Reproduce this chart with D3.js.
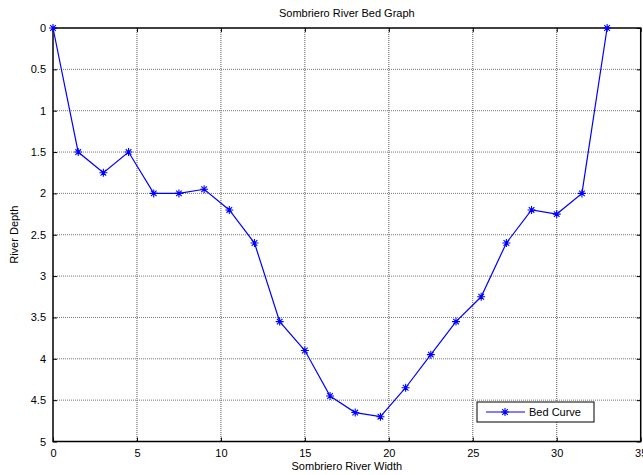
<!DOCTYPE html>
<html>
<head>
<meta charset="utf-8">
<script src="https://cdn.jsdelivr.net/npm/d3@7"></script>
<style>
  body { margin: 0; background: #fff; }
  svg text { font-family: "Liberation Sans", Arial, sans-serif; fill: #000; }
</style>
</head>
<body>
<div id="chart"><svg></svg></div>
<script>
// river bed survey: width (m) vs depth
var widths = [0, 1.5, 3, 4.5, 6, 7.5, 9, 10.5, 12, 13.5, 15, 16.5, 18, 19.5, 21, 22.5, 24, 25.5, 27, 28.5, 30, 31.5, 33];
var depths = [0, 1.5, 1.75, 1.5, 2, 2, 1.95, 2.2, 2.6, 3.55, 3.9, 4.45, 4.65, 4.7, 4.35, 3.95, 3.55, 3.25, 2.6, 2.2, 2.25, 2, 0];
var xTicks = [0, 5, 10, 15, 20, 25, 30, 35];
var yTicks = [0, 0.5, 1, 1.5, 2, 2.5, 3, 3.5, 4, 4.5, 5];

var data = widths.map(function(w, i) {
  return { w: w, d: depths[i] };
});

var margin = { top: 28, right: 2, bottom: 33, left: 53 };
var W = 643, H = 475;
var width = W - margin.left - margin.right;
var height = H - margin.top - margin.bottom;

var svg = d3.select("#chart > svg").attr("width", W).attr("height", H);

var g = svg.append("g")
  .attr("transform", `translate(${margin.left}, ${margin.top})`);

var x = d3.scaleLinear().domain([0, 35]).range([0, width - 0.3]);
var y = d3.scaleLinear().domain([0, 5]).range([0, height - 0.5]);

// grid
g.selectAll(".vgrid")
  .data(xTicks.slice(1, -1))
  .enter().append("line")
  .attr("x1", d => x(d)).attr("x2", d => x(d))
  .attr("y1", 0).attr("y2", y(5))
  .attr("stroke", "#555")
  .attr("stroke-width", 1)
  .attr("stroke-dasharray", "1,1");

g.selectAll(".hgrid")
  .data(yTicks.slice(1, -1))
  .enter().append("line")
  .attr("x1", 0).attr("x2", x(35))
  .attr("y1", d => y(d)).attr("y2", d => y(d))
  .attr("stroke", "#777")
  .attr("stroke-width", 1)
  .attr("stroke-dasharray", "1,1");

// axes, matlab style ticks pointing inward
g.append("g")
  .attr("transform", `translate(0, ${y(5)})`)
  .call(d3.axisBottom(x).tickValues(xTicks).tickSize(-4).tickPadding(8).tickFormat(d3.format("d")))
  .call(a => a.select(".domain").remove());

g.append("g")
  .call(d3.axisTop(x).tickValues(xTicks).tickSize(-4).tickFormat(""))
  .call(a => a.select(".domain").remove());

g.append("g")
  .call(d3.axisLeft(y).tickValues(yTicks).tickSize(-4).tickPadding(7).tickFormat(d => d))
  .call(a => a.select(".domain").remove());

g.append("g")
  .attr("transform", `translate(${x(35)}, 0)`)
  .call(d3.axisRight(y).tickValues(yTicks).tickSize(-4).tickFormat(""))
  .call(a => a.select(".domain").remove());

g.selectAll(".tick text").style("font-size", "11px");
g.selectAll(".tick line").attr("stroke", "#000");

// box
g.append("rect")
  .attr("x", 0).attr("y", 0)
  .attr("width", x(35)).attr("height", y(5))
  .attr("fill", "none")
  .attr("stroke", "#000")
  .attr("stroke-width", 1.5);

// curve
g.append("path")
  .datum(data)
  .attr("fill", "none")
  .attr("stroke", "#0000ff")
  .attr("stroke-width", 1.2)
  .attr("d", d3.line().x(d => x(d.w)).y(d => y(d.d)));

var star = function(s) {
  var k = s * 0.7;
  return `M${-s},0H${s}M0,${-s}V${s}M${-k},${-k}L${k},${k}M${-k},${k}L${k},${-k}`;
};

g.selectAll(".mark")
  .data(data)
  .enter().append("path")
  .attr("transform", d => `translate(${x(d.w)}, ${y(d.d)})`)
  .attr("d", star(4))
  .attr("stroke", "#0000ff")
  .attr("stroke-width", 1.1)
  .attr("fill", "none");

// legend
var lg = svg.append("g").attr("transform", "translate(477, 402)");
lg.append("rect")
  .attr("width", 117).attr("height", 20)
  .attr("fill", "#fff").attr("stroke", "#000").attr("stroke-width", 1);
lg.append("line")
  .attr("x1", 9).attr("x2", 48).attr("y1", 10).attr("y2", 10)
  .attr("stroke", "#0000ff").attr("stroke-width", 1.2);
lg.append("path")
  .attr("transform", "translate(28, 10)")
  .attr("d", star(4))
  .attr("stroke", "#0000ff").attr("stroke-width", 1.1);
lg.append("text")
  .attr("x", 52).attr("y", 14)
  .style("font-size", "11px")
  .text("Bed Curve");

// titles
svg.append("text")
  .attr("x", margin.left + x(35) / 2).attr("y", 17)
  .attr("text-anchor", "middle")
  .style("font-size", "11px")
  .text("Sombriero River Bed Graph");

svg.append("text")
  .attr("x", margin.left + x(35) / 2).attr("y", 470)
  .attr("text-anchor", "middle")
  .style("font-size", "11px")
  .text("Sombriero River Width");

svg.append("text")
  .attr("transform", `translate(18, ${margin.top + y(2.5)}) rotate(-90)`)
  .attr("text-anchor", "middle")
  .style("font-size", "11px")
  .text("River Depth");
</script>
</body>
</html>
